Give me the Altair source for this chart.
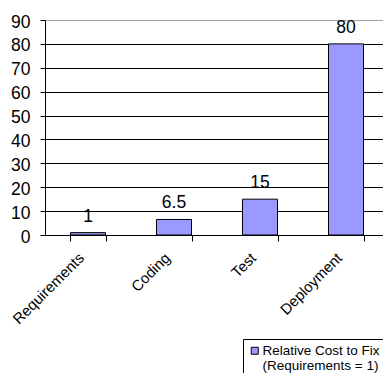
import altair as alt
import pandas as pd

phases = ["Requirements", "Coding", "Test", "Deployment"]
costs = [1, 6.5, 15, 80]
series_lines = ["Relative Cost to Fix", "(Requirements = 1)"]
y_ticks = [0, 10, 20, 30, 40, 50, 60, 70, 80, 90]

df = pd.DataFrame({
    "phase": phases,
    "cost": costs,
    "series": ["|".join(series_lines)] * len(phases),
})

FONT = "Liberation Sans"

x = alt.X(
    "phase:N", sort=phases, title=None,
    scale=alt.Scale(range=[0, 344], paddingInner=0.593, paddingOuter=0.2965),
    axis=alt.Axis(
        labelAngle=-45, labelAlign="right", labelBaseline="middle",
        labelFont=FONT, labelFontSize=15, labelColor="black",
        labelPadding=14, labelOffset=-7,
        tickBand="extent", tickSize=6, tickColor="black", tickWidth=1,
        domainColor="black", domainWidth=1, grid=False,
    ),
)
y = alt.Y(
    "cost:Q", title=None,
    scale=alt.Scale(domain=[0, 90], nice=False),
    axis=alt.Axis(
        values=y_ticks, grid=True,
        gridColor={"condition": {"test": "datum.value >= 90", "value": "#a0a0a0"}, "value": "black"},
        gridWidth=1, gridOpacity=1,
        labelFont=FONT, labelFontSize=17.5, labelColor="black",
        labelPadding=10, labelOffset=2,
        tickSize=5, tickColor="black", domainColor="black", domainWidth=1,
    ),
)

bars = alt.Chart(df).mark_bar(stroke="black", strokeWidth=1).encode(
    x=x, y=y,
    color=alt.Color(
        "series:N",
        scale=alt.Scale(range=["#9999ff"]),
        legend=alt.Legend(
            title=None, orient="none", legendX=198, legendY=319,
            strokeColor="black", fillColor="white", padding=5,
            labelFont=FONT, labelFontSize=13.5, labelColor="black", labelLimit=400,
            labelExpr="split(datum.label, '|')", labelOffset=1,
            symbolType="square", symbolSize=49, symbolStrokeColor="black",
            symbolStrokeWidth=1,
        ),
    ),
)

labels = alt.Chart(df).mark_text(
    dy=-11, baseline="alphabetic", fontSize=17.5, font=FONT, color="black"
).encode(x=x, y=y, text="cost:Q")

chart = (bars + labels).properties(
    width=338, height=215,
    autosize=alt.AutoSizeParams(type="none"),
    padding={"left": 45, "top": 20, "right": 0, "bottom": 138},
).configure_view(fill="#c0c0c0", stroke="transparent").configure(background="white")

chart.save("out.html", embed_options={"renderer": "svg", "actions": False})
